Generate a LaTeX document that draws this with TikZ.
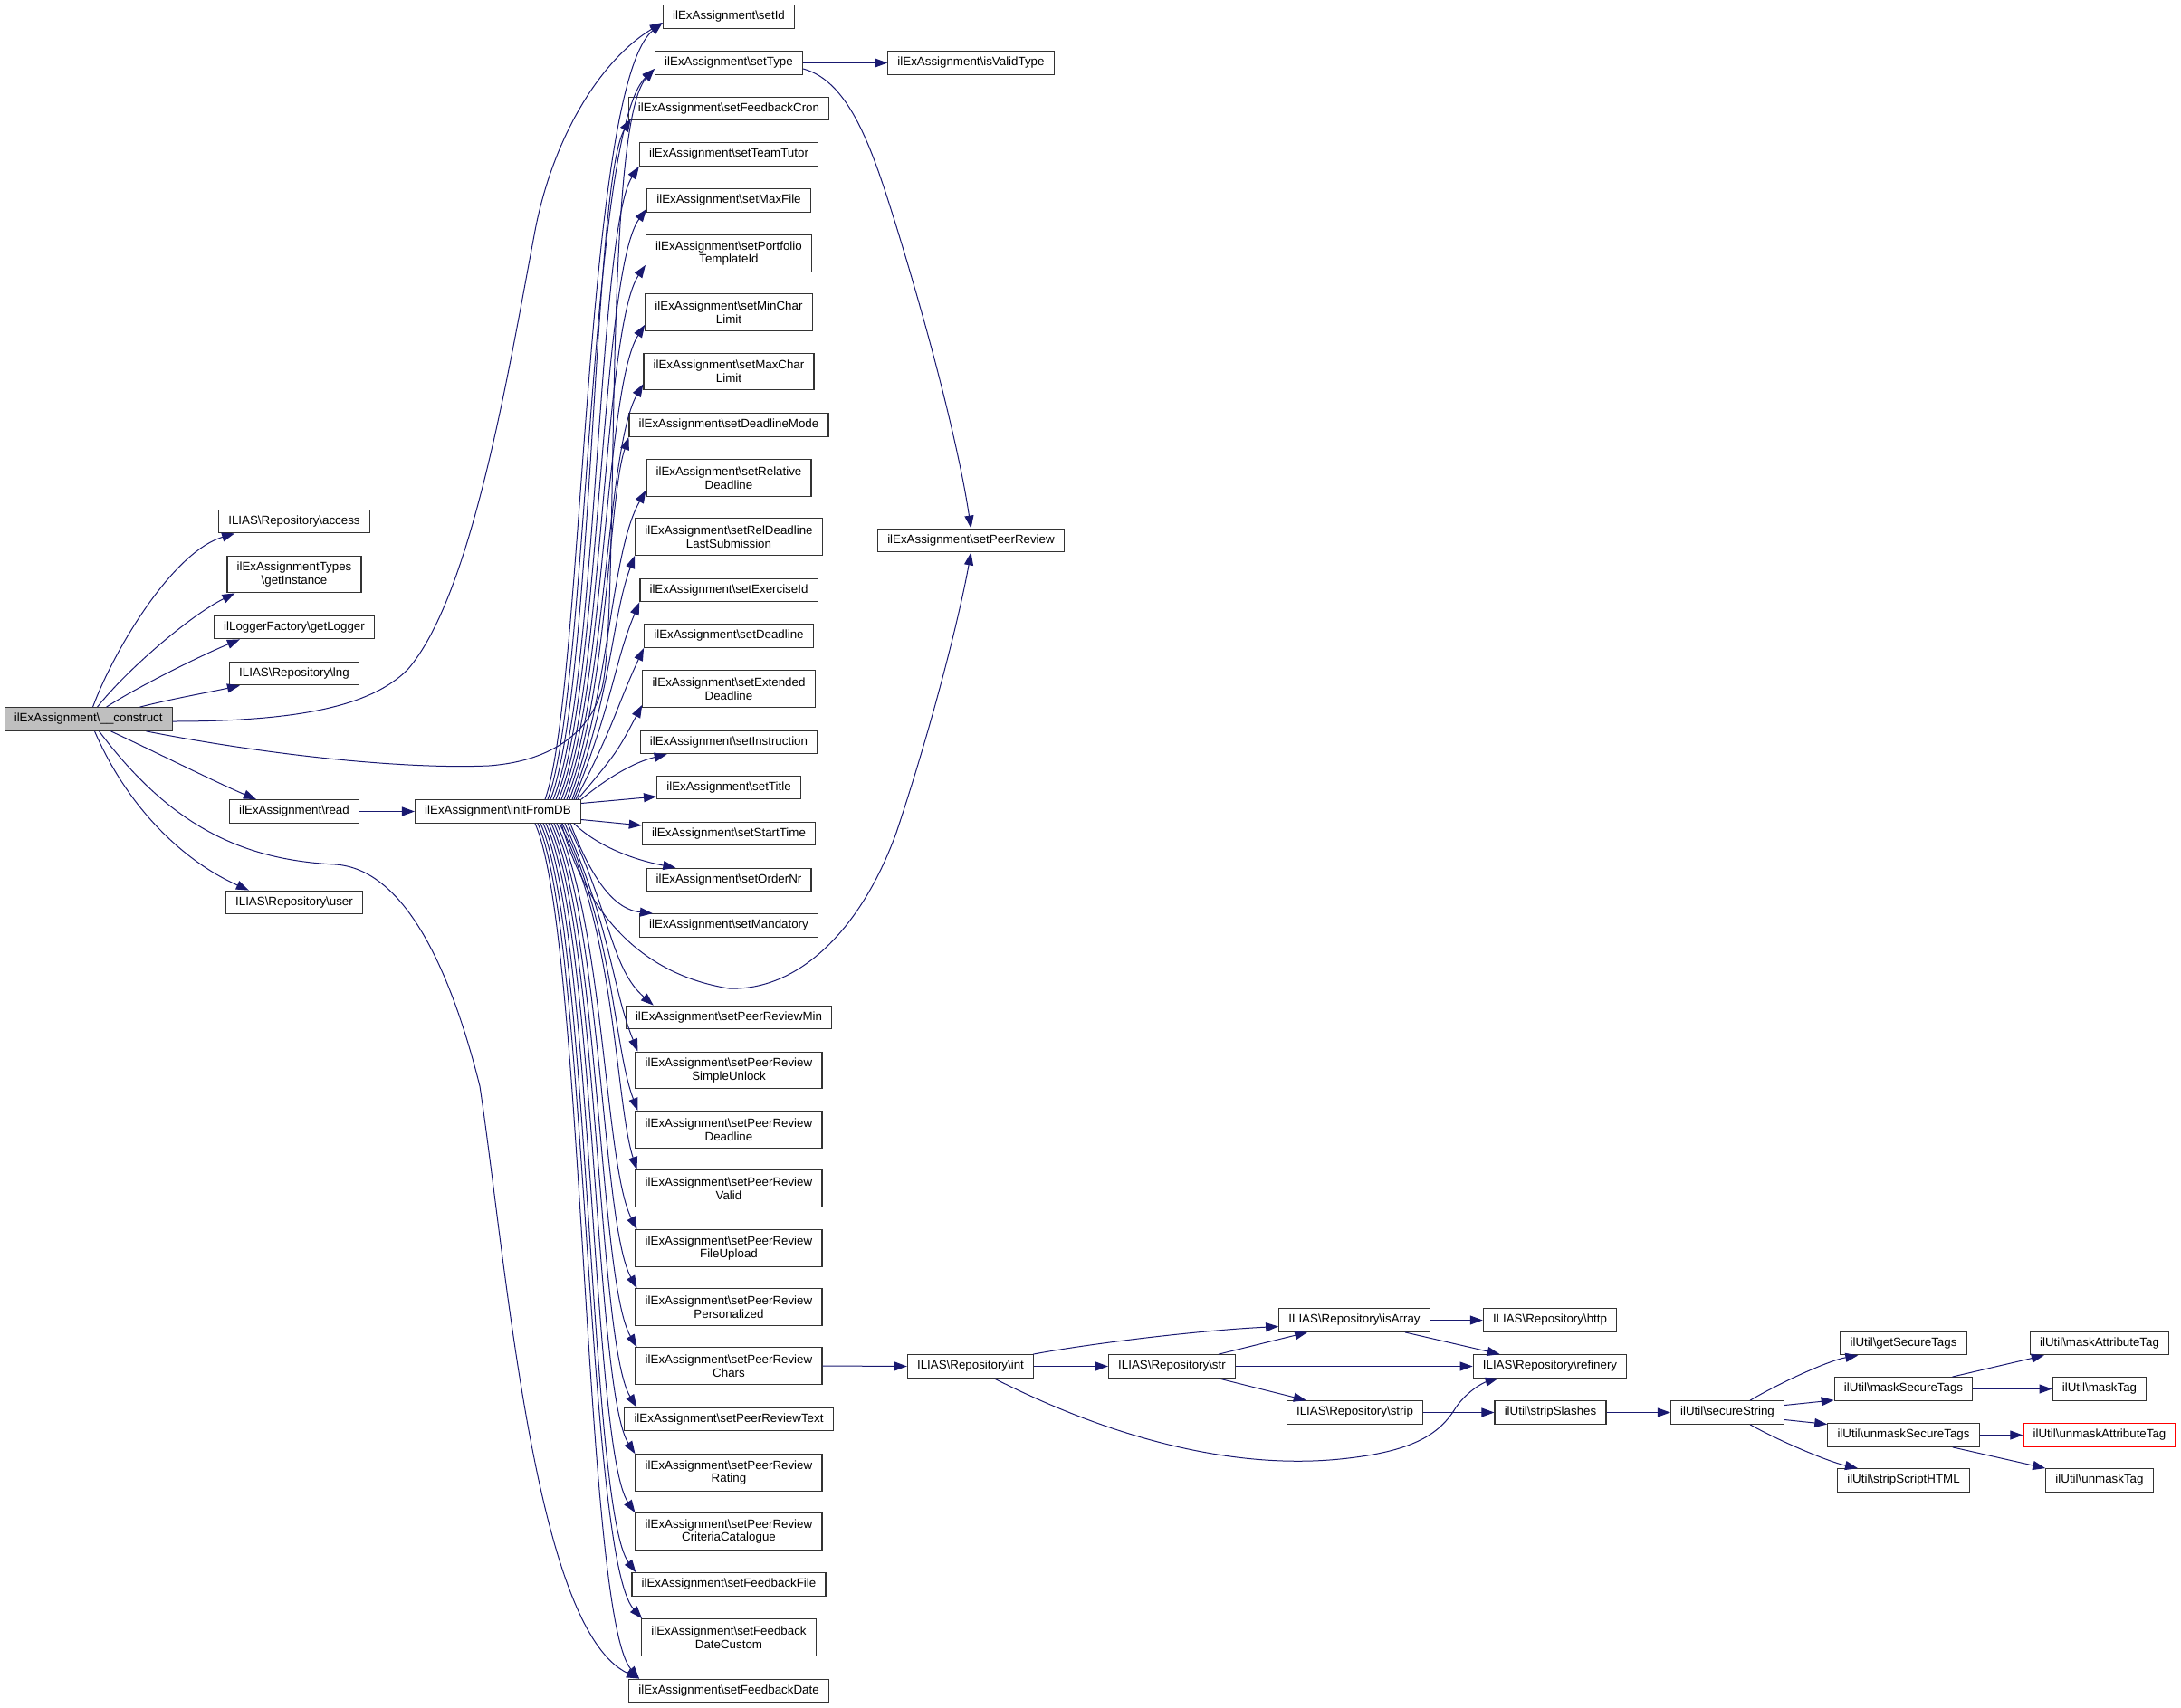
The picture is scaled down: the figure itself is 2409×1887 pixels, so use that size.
\documentclass[tikz,border=0pt]{standalone}
\usepackage{fontspec}
\setmainfont{Liberation Sans}
\usetikzlibrary{arrows.meta,calc}
\definecolor{edgeblue}{HTML}{191970}
\definecolor{boxgray}{HTML}{333333}
\definecolor{constructfill}{HTML}{BFBFBF}
\newcommand{\bkslash}{\textbackslash}
\begin{document}
\begin{tikzpicture}[x=0.75pt,y=-0.75pt,
 fn/.style={draw=boxgray, line width=0.9pt, fill=white, rectangle, inner xsep=8pt, inner ysep=2pt,
   minimum height=19.2pt, font=\fontsize{10pt}{11pt}\selectfont, align=center},
 fn2/.style={fn, minimum height=30.4pt},
 call/.style={draw=edgeblue, line width=0.75pt, -{Triangle[length=10.5pt,width=7.5pt]}}]
\path[use as bounding box] (0,0) rectangle (2409,1887);

% column 1-3
\node[fn, fill=constructfill] (construct) at (97.7,794.5) {ilExAssignment\bkslash\_\_construct};
\node[fn] (access) at (325,576) {ILIAS\bkslash Repository\bkslash access};
\node[fn2] (getInstance) at (325,634.5) {ilExAssignmentTypes\\\bkslash getInstance};
\node[fn] (getLogger) at (325,693) {ilLoggerFactory\bkslash getLogger};
\node[fn] (lng) at (325,744) {ILIAS\bkslash Repository\bkslash lng};
\node[fn] (read) at (325,896.5) {ilExAssignment\bkslash read};
\node[fn] (user) at (325,997) {ILIAS\bkslash Repository\bkslash user};
\node[fn] (initFromDB) at (550,896.5) {ilExAssignment\bkslash initFromDB};

% setters
\node[fn] (setId) at (805,18.5) {ilExAssignment\bkslash setId};
\node[fn] (setType) at (805,69.5) {ilExAssignment\bkslash setType};
\node[fn] (setFeedbackCron) at (805,120) {ilExAssignment\bkslash setFeedbackCron};
\node[fn] (setTeamTutor) at (805,170.5) {ilExAssignment\bkslash setTeamTutor};
\node[fn] (setMaxFile) at (805,221.5) {ilExAssignment\bkslash setMaxFile};
\node[fn2] (setPortfolio) at (805,280) {ilExAssignment\bkslash setPortfolio\\TemplateId};
\node[fn2] (setMinChar) at (805,345) {ilExAssignment\bkslash setMinChar\\Limit};
\node[fn2] (setMaxChar) at (805,410.5) {ilExAssignment\bkslash setMaxChar\\Limit};
\node[fn] (setDeadlineMode) at (805,469.5) {ilExAssignment\bkslash setDeadlineMode};
\node[fn2] (setRelative) at (805,528) {ilExAssignment\bkslash setRelative\\Deadline};
\node[fn2] (setRelDeadline) at (805,593) {ilExAssignment\bkslash setRelDeadline\\LastSubmission};
\node[fn] (setExerciseId) at (805,652) {ilExAssignment\bkslash setExerciseId};
\node[fn] (setDeadline) at (805,702.5) {ilExAssignment\bkslash setDeadline};
\node[fn2] (setExtended) at (805,761) {ilExAssignment\bkslash setExtended\\Deadline};
\node[fn] (setInstruction) at (805,820) {ilExAssignment\bkslash setInstruction};
\node[fn] (setTitle) at (805,870) {ilExAssignment\bkslash setTitle};
\node[fn] (setStartTime) at (805,921) {ilExAssignment\bkslash setStartTime};
\node[fn] (setOrderNr) at (805,972) {ilExAssignment\bkslash setOrderNr};
\node[fn] (setMandatory) at (805,1022.5) {ilExAssignment\bkslash setMandatory};
\node[fn] (setPeerReviewMin) at (805,1124) {ilExAssignment\bkslash setPeerReviewMin};
\node[fn2] (prSimpleUnlock) at (805,1182.5) {ilExAssignment\bkslash setPeerReview\\SimpleUnlock};
\node[fn2] (prDeadline) at (805,1248) {ilExAssignment\bkslash setPeerReview\\Deadline};
\node[fn2] (prValid) at (805,1313) {ilExAssignment\bkslash setPeerReview\\Valid};
\node[fn2] (prFileUpload) at (805,1379) {ilExAssignment\bkslash setPeerReview\\FileUpload};
\node[fn2] (prPersonalized) at (805,1444) {ilExAssignment\bkslash setPeerReview\\Personalized};
\node[fn2] (prChars) at (805,1509) {ilExAssignment\bkslash setPeerReview\\Chars};
\node[fn] (prText) at (805,1568) {ilExAssignment\bkslash setPeerReviewText};
\node[fn2] (prRating) at (805,1627) {ilExAssignment\bkslash setPeerReview\\Rating};
\node[fn2] (prCriteria) at (805,1692) {ilExAssignment\bkslash setPeerReview\\CriteriaCatalogue};
\node[fn] (feedbackFile) at (805,1750.5) {ilExAssignment\bkslash setFeedbackFile};
\node[fn2] (feedbackDateCustom) at (805,1809) {ilExAssignment\bkslash setFeedback\\DateCustom};
\node[fn] (feedbackDate) at (805,1868) {ilExAssignment\bkslash setFeedbackDate};

% right part
\node[fn] (isValidType) at (1072.5,69.5) {ilExAssignment\bkslash isValidType};
\node[fn] (setPeerReview) at (1072.5,597) {ilExAssignment\bkslash setPeerReview};
\node[fn] (int) at (1072,1509.5) {ILIAS\bkslash Repository\bkslash int};
\node[fn] (str) at (1294.5,1509.5) {ILIAS\bkslash Repository\bkslash str};
\node[fn] (isArray) at (1496,1458.5) {ILIAS\bkslash Repository\bkslash isArray};
\node[fn] (strip) at (1496.5,1560.5) {ILIAS\bkslash Repository\bkslash strip};
\node[fn] (http) at (1712,1458.5) {ILIAS\bkslash Repository\bkslash http};
\node[fn] (refinery) at (1712,1509.5) {ILIAS\bkslash Repository\bkslash refinery};
\node[fn] (stripSlashes) at (1712.5,1560.5) {ilUtil\bkslash stripSlashes};
\node[fn] (secureString) at (1908,1560.5) {ilUtil\bkslash secureString};
\node[fn] (getSecureTags) at (2102.5,1484) {ilUtil\bkslash getSecureTags};
\node[fn] (maskSecureTags) at (2102.5,1534.5) {ilUtil\bkslash maskSecureTags};
\node[fn] (unmaskSecureTags) at (2102.5,1585.5) {ilUtil\bkslash unmaskSecureTags};
\node[fn] (stripScriptHTML) at (2102.5,1635.5) {ilUtil\bkslash stripScriptHTML};
\node[fn] (maskAttributeTag) at (2319,1484) {ilUtil\bkslash maskAttributeTag};
\node[fn] (maskTag) at (2319,1534.5) {ilUtil\bkslash maskTag};
\node[fn, draw=red] (unmaskAttributeTag) at (2319,1585.5) {ilUtil\bkslash unmaskAttributeTag};
\node[fn] (unmaskTag) at (2319,1635.5) {ilUtil\bkslash unmaskTag};

% construct edges
\draw[call] ($(construct.north west)+(98,0)$) .. controls (125,720) and (190,610) .. ($(access.south west)+(18,0)$);
\draw[call] ($(construct.north west)+(103,0)$) .. controls (140,740) and (210,680) .. ($(getInstance.south west)+(9,0)$);
\draw[call] ($(construct.north west)+(113,0)$) .. controls (150,760) and (220,725) .. ($(getLogger.south west)+(29,0)$);
\draw[call] ($(construct.north west)+(150,0)$) .. controls (190,772) and (230,765) .. ($(lng.south west)+(12,0)$);
\draw[call] ($(construct.south west)+(118,0)$) .. controls (170,830) and (240,865) .. ($(read.north west)+(30,0)$);
\draw[call] ($(construct.south west)+(100,0)$) .. controls (140,890) and (200,950) .. ($(user.north west)+(26,0)$);
\draw[call] ($(construct.east)+(0,2.5)$) .. controls (330,797) and (410,780) .. (450,740)
  .. controls (520,660) and (560,420) .. (590,260) .. controls (610,150) and (665,65) .. ($(setId.west)+(0,6.5)$);
\draw[call] ($(construct.south west)+(157,0)$) .. controls (300,835) and (450,850) .. (540,846)
  .. controls (620,840) and (655,800) .. (665,760) .. controls (685,680) and (665,140) .. ($(setType.west)+(0,6.5)$);
\draw[call] ($(construct.south west)+(105,0)$) .. controls (190,915) and (270,950) .. (370,955)
  .. controls (450,960) and (500,1080) .. (530,1200) .. controls (560,1400) and (590,1800) .. ($(feedbackDate.north west)+(12,0)$);

\draw[call] (read.east) -- (initFromDB.west);

% initFromDB -> setters above
\draw[call] ($(initFromDB.north east)+(-40,0)$) .. controls (645,763) and (645,95) .. ($(setId.west)+(0,6.5)$);
\draw[call] ($(initFromDB.north east)+(-37,0)$) .. controls (650,763) and (650,146) .. ($(setType.west)+(0,6.5)$);
\draw[call] ($(initFromDB.north east)+(-34,0)$) .. controls (655,763) and (655,201) .. ($(setFeedbackCron.south west)+(3,-2)$);
\draw[call] ($(initFromDB.north east)+(-31,0)$) .. controls (660,763) and (660,253) .. (setTeamTutor.south west);
\draw[call] ($(initFromDB.north east)+(-28,0)$) .. controls (663,763) and (663,300) .. ($(setMaxFile.south west)+(0,-4)$);
\draw[call] ($(initFromDB.north east)+(-25,0)$) .. controls (666,763) and (666,362) .. ($(setPortfolio.south west)+(0,-8)$);
\draw[call] ($(initFromDB.north east)+(-22,0)$) .. controls (668,763) and (668,428) .. ($(setMinChar.south west)+(0,-7)$);
\draw[call] ($(initFromDB.north east)+(-19,0)$) .. controls (670,763) and (670,494) .. ($(setMaxChar.south west)+(0,-7)$);
\draw[call] ($(initFromDB.north east)+(-16,0)$) .. controls (672,763) and (672,550) .. (setDeadlineMode.south west);
\draw[call] ($(initFromDB.north east)+(-13,0)$) .. controls (674,763) and (674,611) .. ($(setRelative.south west)+(0,-7)$);
\draw[call] ($(initFromDB.north east)+(-10,0)$) .. controls (676,763) and (676,681) .. (setRelDeadline.south west);
\draw[call] ($(initFromDB.north east)+(-8,0)$) .. controls (678,773) and (678,733) .. (setExerciseId.south west);
\draw[call] ($(initFromDB.north east)+(-6,0)$) .. controls (680,798) and (680,783) .. (setDeadline.south west);
\draw[call] ($(initFromDB.north east)+(-4,0)$) .. controls (682,831) and (682,830) .. ($(setExtended.south west)+(0,-3)$);
\draw[call] (initFromDB.north east) .. controls (670,860) and (700,842) .. ($(setInstruction.south west)+(30,0)$);
\draw[call] ($(initFromDB.east)+(0,-9)$) -- ($(setTitle.west)+(0,10)$);
\draw[call] ($(initFromDB.east)+(0,9)$) -- ($(setStartTime.west)+(0,-9)$);

% initFromDB -> setters below
\draw[call] ($(initFromDB.south east)+(-8,0)$) .. controls (660,935) and (700,950) .. ($(setOrderNr.north west)+(33,0)$);
\draw[call] ($(initFromDB.south east)+(-12,0)$) .. controls (655,975) and (680,1005) .. ($(setMandatory.north west)+(15,0)$);
\draw[call] ($(initFromDB.south east)+(-15,0)$) .. controls (675,1010) and (675,1070) .. ($(setPeerReviewMin.north west)+(31,0)$);
\draw[call] ($(initFromDB.south east)+(-18,0)$) .. controls (676,1029) and (676,1092) .. ($(prSimpleUnlock.north west)+(3,0)$);
\draw[call] ($(initFromDB.south east)+(-21,0)$) .. controls (678,1029) and (678,1158) .. ($(prDeadline.north west)+(3,0)$);
\draw[call] ($(initFromDB.south east)+(-24,0)$) .. controls (680,1029) and (680,1220) .. ($(prValid.north west)+(2,0)$);
\draw[call] ($(initFromDB.south east)+(-27,0)$) .. controls (668,1029) and (668,1288) .. ($(prFileUpload.north west)+(2,0)$);
\draw[call] ($(initFromDB.south east)+(-30,0)$) .. controls (665,1029) and (665,1354) .. ($(prPersonalized.north west)+(2,0)$);
\draw[call] ($(initFromDB.south east)+(-33,0)$) .. controls (662,1029) and (662,1419) .. ($(prChars.north west)+(2,0)$);
\draw[call] ($(initFromDB.south east)+(-36,0)$) .. controls (660,1029) and (660,1485) .. ($(prText.north west)+(14,0)$);
\draw[call] ($(initFromDB.south east)+(-39,0)$) .. controls (657,1029) and (657,1537) .. (prRating.north west);
\draw[call] ($(initFromDB.south east)+(-42,0)$) .. controls (654,1029) and (654,1602) .. (prCriteria.north west);
\draw[call] ($(initFromDB.south east)+(-45,0)$) .. controls (651,1029) and (651,1668) .. ($(feedbackFile.north west)+(5,0)$);
\draw[call] ($(initFromDB.south east)+(-48,0)$) .. controls (648,1029) and (648,1720) .. ($(feedbackDateCustom.north west)+(1,0)$);
\draw[call] ($(initFromDB.south east)+(-51,0)$) .. controls (645,1029) and (645,1785) .. ($(feedbackDate.north west)+(12,0)$);

% setPeerReview
\draw[call] ($(initFromDB.south east)+(-22,0)$) .. controls (645,1000) and (700,1075) .. (805,1092)
  .. controls (880,1095) and (950,1030) .. (990,920) .. controls (1030,800) and (1060,680) .. (setPeerReview.south);
\draw[call] (setType.east) -- (isValidType.west);
\draw[call] ($(setType.east)+(0,6.5)$) .. controls (940,90) and (965,170) .. (990,250)
  .. controls (1030,380) and (1060,500) .. (setPeerReview.north);

% right part edges
\draw[call] (prChars.east) -- (int.west);
\draw[call] ($(int.north east)+(-1,0)$) .. controls (1200,1485) and (1320,1470) .. ($(isArray.west)+(0,7)$);
\draw[call] (int.east) -- (str.west);
\draw[call] ($(int.south east)+(-44,0)$) .. controls (1250,1600) and (1380,1622) .. (1480,1612)
  .. controls (1560,1604) and (1590,1585) .. (1608,1555) .. controls (1622,1535) and (1640,1527) .. ($(refinery.south west)+(28,0)$);
\draw[call] ($(str.north east)+(-19,0)$) -- ($(isArray.south west)+(32,0)$);
\draw[call] (str.east) -- (refinery.west);
\draw[call] ($(str.south east)+(-19,0)$) -- ($(strip.north west)+(22,0)$);
\draw[call] (isArray.east) -- (http.west);
\draw[call] ($(isArray.south east)+(-28,0)$) -- ($(refinery.north west)+(30,0)$);
\draw[call] (strip.east) -- (stripSlashes.west);
\draw[call] (stripSlashes.east) -- (secureString.west);
\draw[call] ($(secureString.north east)+(-38,0)$) .. controls (1965,1528) and (2020,1503) .. ($(getSecureTags.south west)+(20,0)$);
\draw[call] ($(secureString.east)+(0,-8)$) -- ($(maskSecureTags.south west)+(0,-1)$);
\draw[call] ($(secureString.east)+(0,8)$) -- ($(unmaskSecureTags.west)+(0,-12)$);
\draw[call] ($(secureString.south east)+(-38,0)$) .. controls (1965,1592) and (2020,1615) .. ($(stripScriptHTML.north west)+(23,0)$);
\draw[call] ($(maskSecureTags.north east)+(-23,0)$) -- ($(maskAttributeTag.south west)+(16,0)$);
\draw[call] (maskSecureTags.east) -- (maskTag.west);
\draw[call] (unmaskSecureTags.east) -- (unmaskAttributeTag.west);
\draw[call] ($(unmaskSecureTags.south east)+(-30,0)$) -- (unmaskTag.north west);
\end{tikzpicture}
\end{document}
